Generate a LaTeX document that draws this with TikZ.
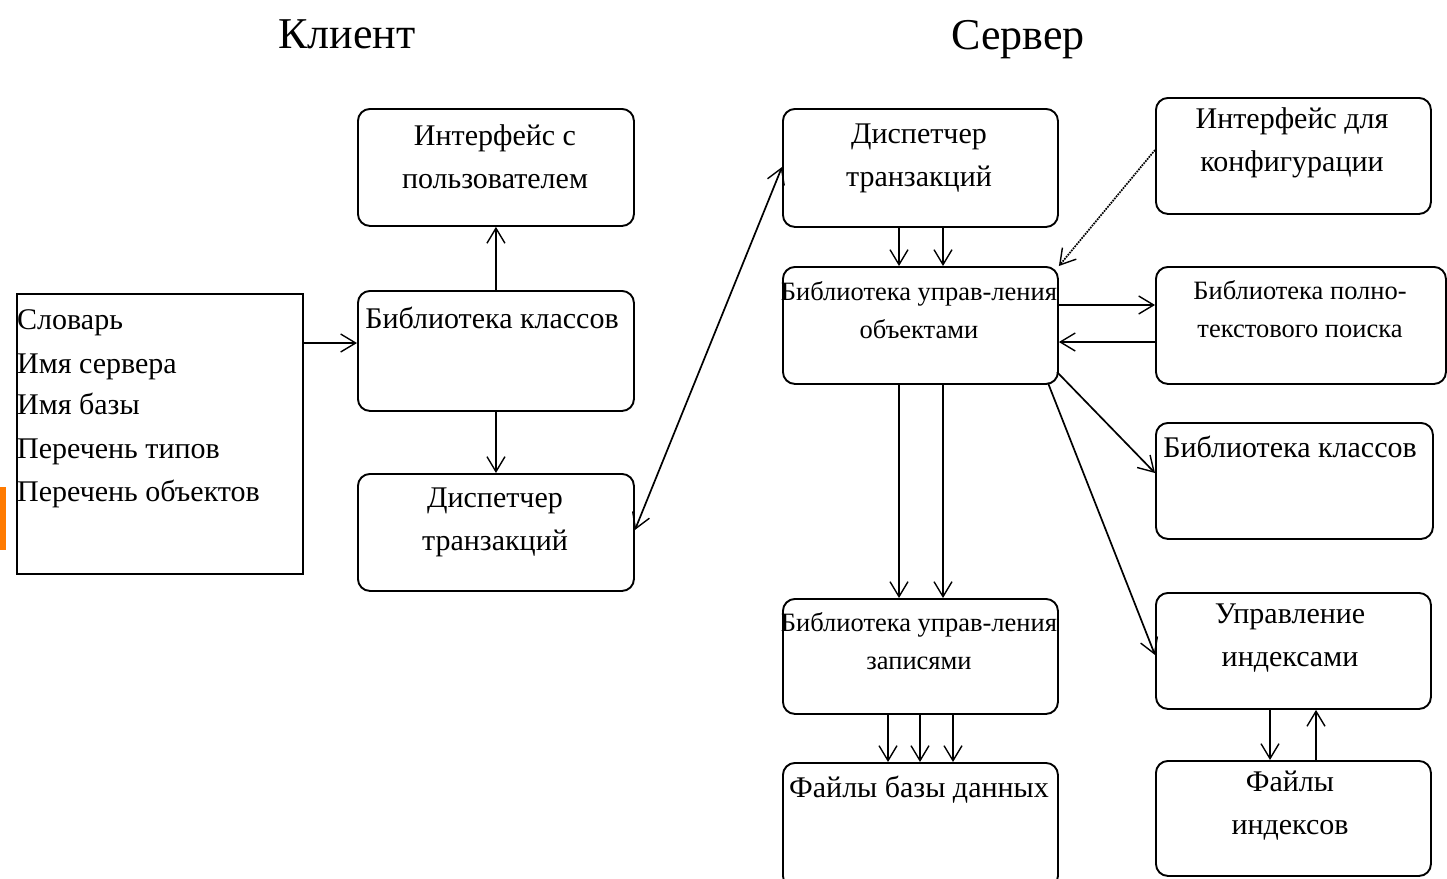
\documentclass[tikz,border=0pt]{standalone}
\usepackage{fontspec}
\setmainfont{Liberation Serif}
\usetikzlibrary{arrows.meta}
\tikzset{
  box/.style={draw, line width=1.9pt, rounded corners=12pt, anchor=north west, inner sep=0pt},
  sqbox/.style={draw, line width=1.9pt, anchor=north west, inner sep=0pt},
  lbl/.style={font=\fontsize{30}{43}\selectfont, inner sep=0pt, align=center},
  lstl/.style={font=\fontsize{30}{43}\selectfont, inner sep=0pt, anchor=base west},
  lbls/.style={font=\fontsize{26.5}{38}\selectfont, inner sep=0pt, align=center},
  ttl/.style={font=\fontsize{44}{50}\selectfont, inner sep=0pt, anchor=base},
  arr/.style={line width=1.7pt, -{Straight Barb[length=15pt,width=18pt,line width=1.4pt]}},
  darr/.style={line width=1.7pt, {Straight Barb[length=15pt,width=18pt,line width=1.4pt]}-{Straight Barb[length=15pt,width=18pt,line width=1.4pt]}},
}
\begin{document}
\begin{tikzpicture}[x=1pt,y=-1pt]
\useasboundingbox[fill=white] (0,0) rectangle (1447,878);
% orange tab
\fill[orange!90!red!95!yellow] (0,487) rectangle (6,550);
% titles
\node[ttl] (tcl) at (347,48) {Клиент};
\node[ttl] (tsr) at (1018,49) {Сервер};
% list box
\node[sqbox, minimum width=286pt, minimum height=280pt] (list) at (16,293) {};
\node[lstl] (l1) at (17,329) {Словарь};
\node[lstl] (l2) at (17,373) {Имя сервера};
\node[lstl] (l3) at (17,414) {Имя базы};
\node[lstl] (l4) at (17,458) {Перечень типов};
\node[lstl] (l5) at (17,501) {Перечень объектов};
% client boxes
\node[box, minimum width=276pt, minimum height=117pt] (cui) at (357,108) {};
\node[lbl] (cuit) at (495,157) {Интерфейс с\\пользователем};
\node[box, minimum width=276pt, minimum height=120pt] (clib) at (357,290) {};
\node[lbl] (clibt) at (492,318) {Библиотека классов};
\node[box, minimum width=276pt, minimum height=117pt] (cdisp) at (357,473) {};
\node[lbl] (cdispt) at (495,522) {Диспетчер\\транзакций};
% server boxes
\node[box, minimum width=275pt, minimum height=118pt] (sdisp) at (782,108) {};
\node[lbl] (sdispt) at (919,158) {Диспетчер\\транзакций};
\node[box, minimum width=275pt, minimum height=117pt] (sobj) at (782,266) {};
\node[lbls] (sobjt) at (919,310) {Библиотека управ-ления\\объектами};
\node[box, minimum width=275pt, minimum height=115pt] (srec) at (782,598) {};
\node[lbls] (srect) at (919,641) {Библиотека управ-ления\\записями};
\node[box, minimum width=275pt, minimum height=125pt] (sdb) at (782,762) {};
\node[lbl] (sdbt) at (919,790) {Файлы базы данных};
\node[box, minimum width=275pt, minimum height=116pt] (scfg) at (1155,97) {};
\node[lbl] (scfgt) at (1292,143) {Интерфейс для\\конфигурации};
\node[box, minimum width=290pt, minimum height=117pt] (sft) at (1155,266) {};
\node[lbls] (sftt) at (1300,309) {Библиотека полно-\\текстового поиска};
\node[box, minimum width=277pt, minimum height=116pt] (scls) at (1155,422) {};
\node[lbl] (sclst) at (1290,447) {Библиотека классов};
\node[box, minimum width=275pt, minimum height=116pt] (sidx) at (1155,592) {};
\node[lbl] (sidxt) at (1290,638) {Управление\\индексами};
\node[box, minimum width=275pt, minimum height=115pt] (sidxf) at (1155,760) {};
\node[lbl] (sidxft) at (1290,806) {Файлы\\индексов};
% connectors client
\draw[arr] (list.east |- 0,343) -- (clib.west |- 0,343);
\draw[arr] (clib.north) -- (cui.south);
\draw[arr] (clib.south) -- (cdisp.north);
\draw[darr] (cdisp.east |- 0,530) -- (sdisp.west |- 0,167);
% connectors server
\draw[arr] (sdisp.south -| 899,0) -- (sobj.north -| 899,0);
\draw[arr] (sdisp.south -| 943,0) -- (sobj.north -| 943,0);
\draw[arr, densely dotted] (scfg.west |- 0,150) -- (sobj.north east);
\draw[arr] (sobj.east |- 0,305) -- (sft.west |- 0,305);
\draw[arr] (sft.west |- 0,342) -- (sobj.east |- 0,342);
\coordinate (o1) at (1057,372);
\coordinate (o2) at (1048,383);
\draw[arr] (o1) -- (scls.west |- 0,473);
\draw[arr] (o2) -- (sidx.west |- 0,655);
\draw[arr] (sobj.south -| 899,0) -- (srec.north -| 899,0);
\draw[arr] (sobj.south -| 943,0) -- (srec.north -| 943,0);
\draw[arr] (srec.south -| 888,0) -- (sdb.north -| 888,0);
\draw[arr] (srec.south -| 920,0) -- (sdb.north -| 920,0);
\draw[arr] (srec.south -| 953,0) -- (sdb.north -| 953,0);
\draw[arr] (sidx.south -| 1270,0) -- (sidxf.north -| 1270,0);
\draw[arr] (sidxf.north -| 1316,0) -- (sidx.south -| 1316,0);
\end{tikzpicture}
\end{document}
